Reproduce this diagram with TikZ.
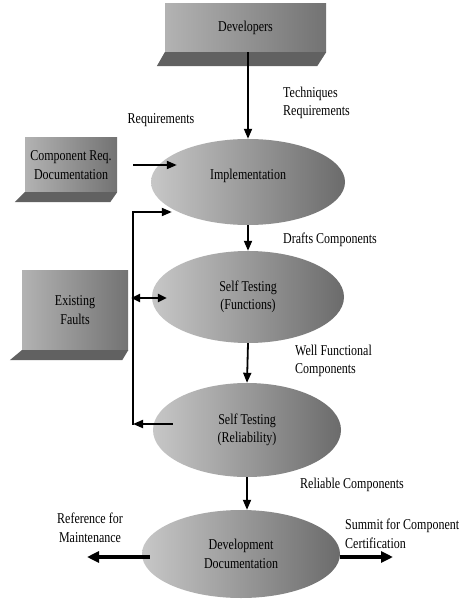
\documentclass[tikz,border=0pt]{standalone}
\usepackage{fontspec}
\setmainfont{Liberation Serif}[FakeStretch=0.8]
\usetikzlibrary{arrows.meta,shapes.geometric}

\begin{document}
\begin{tikzpicture}[x=1pt,y=-1pt,
  every node/.style={font=\fontsize{15}{18.5}\selectfont, inner sep=0pt},
  stage/.style={ellipse, left color=black!22, right color=black!58, align=center},
  face/.style={rectangle, left color=black!30, right color=black!55, align=center},
  ledge/.style={fill=black!62},
  lbl/.style={align=left, anchor=west},
  arr/.style={-{Triangle[length=10pt,width=8pt]}, line width=1.8pt},
  darr/.style={{Triangle[length=9pt,width=8pt]}-{Triangle[length=9pt,width=8pt]}, line width=2.2pt},
  bigarr/.style={-{Triangle[length=12pt,width=11pt]}, line width=3.2pt},
  plain/.style={line width=1.8pt}]

\useasboundingbox[fill=white] (0,0) rectangle (462,601);

% ---- source boxes (front face plus slanted base) ----
\node[face, minimum width=161pt, minimum height=48pt] (dev) at (245.5,28) {Developers};
\fill[ledge] (dev.south west) -- (dev.south east) -- ([shift={(-9pt,-14pt)}]dev.south east)
  -- ([shift={(-8pt,-14pt)}]dev.south west) -- cycle;

\node[face, minimum width=92pt, minimum height=54pt] (comp) at (71,165) {Component Req.\\Documentation};
\fill[ledge] (comp.south west) -- (comp.south east) -- ([shift={(-7pt,-10pt)}]comp.south east)
  -- ([shift={(-10pt,-10pt)}]comp.south west) -- cycle;

\node[face, minimum width=106pt, minimum height=80pt] (faults) at (75,310) {Existing\\Faults};
\fill[ledge] (faults.south west) -- (faults.south east) -- ([shift={(-6pt,-10pt)}]faults.south east)
  -- ([shift={(-12pt,-10pt)}]faults.south west) -- cycle;

% ---- process stages ----
\node[stage, minimum width=194pt, minimum height=86pt] (impl) at (248,182) {Implementation\\[-4pt]};
\node[stage, minimum width=192pt, minimum height=92pt] (func) at (248,297) {Self Testing\\(Functions)};
\node[stage, minimum width=188pt, minimum height=94pt] (rel) at (247,430) {Self Testing\\(Reliability)};
\node[stage, minimum width=198pt, minimum height=88pt] (doc) at (241,554) {Development\\Documentation};

% ---- labels ----
\node[lbl] (techreq) at (283,103) {Techniques\\Requirements};
\node (req) at (161,120) {Requirements};
\node[lbl] (drafts) at (283,240) {Drafts Components};
\node[lbl] (wellfunc) at (295,361) {Well Functional\\Components};
\node[lbl] (reliable) at (300,485) {Reliable Components};
\node[align=center] (reffor) at (90,528) {Reference for\\Maintenance};
\node[lbl] (summit) at (345,534) {Summit for Component\\Certification};

% ---- main flow ----
\draw[arr] (dev.south -| impl.north) -- (impl.north);
\draw[arr] (impl.south) -- (func.north);
\draw[arr] (func.south) -- (rel.north);
\draw[arr] (rel.south) -- (doc.north -| rel.south);

% ---- inputs ----
\draw[arr] ([xshift=16pt]comp.east) -- ([xshift=26pt]comp.east -| impl.west);
\draw[darr] ([shift={(3pt,12pt)}]faults.east) -- ([shift={(15pt,12pt)}]faults.east -| func.west);

% ---- feedback loop from reliability testing back to implementation ----
\coordinate (fbot) at (133,424);
\coordinate (ftop) at (133,212);
\draw[arr] ([xshift=20pt]rel.west |- fbot) -- (fbot);
\draw[plain] ([yshift=-0.9pt]fbot) -- ([yshift=0.9pt]ftop);
\draw[arr] ([xshift=-0.9pt]ftop) -- ([xshift=21pt]impl.west |- ftop);

% ---- outputs ----
\coordinate (refend) at (87,557);
\coordinate (certend) at (393,557);
\draw[bigarr] ([shift={(8pt,-3pt)}]doc.west) -- (refend);
\draw[bigarr] ([yshift=-3pt]doc.east) -- (certend);

\end{tikzpicture}
\end{document}
